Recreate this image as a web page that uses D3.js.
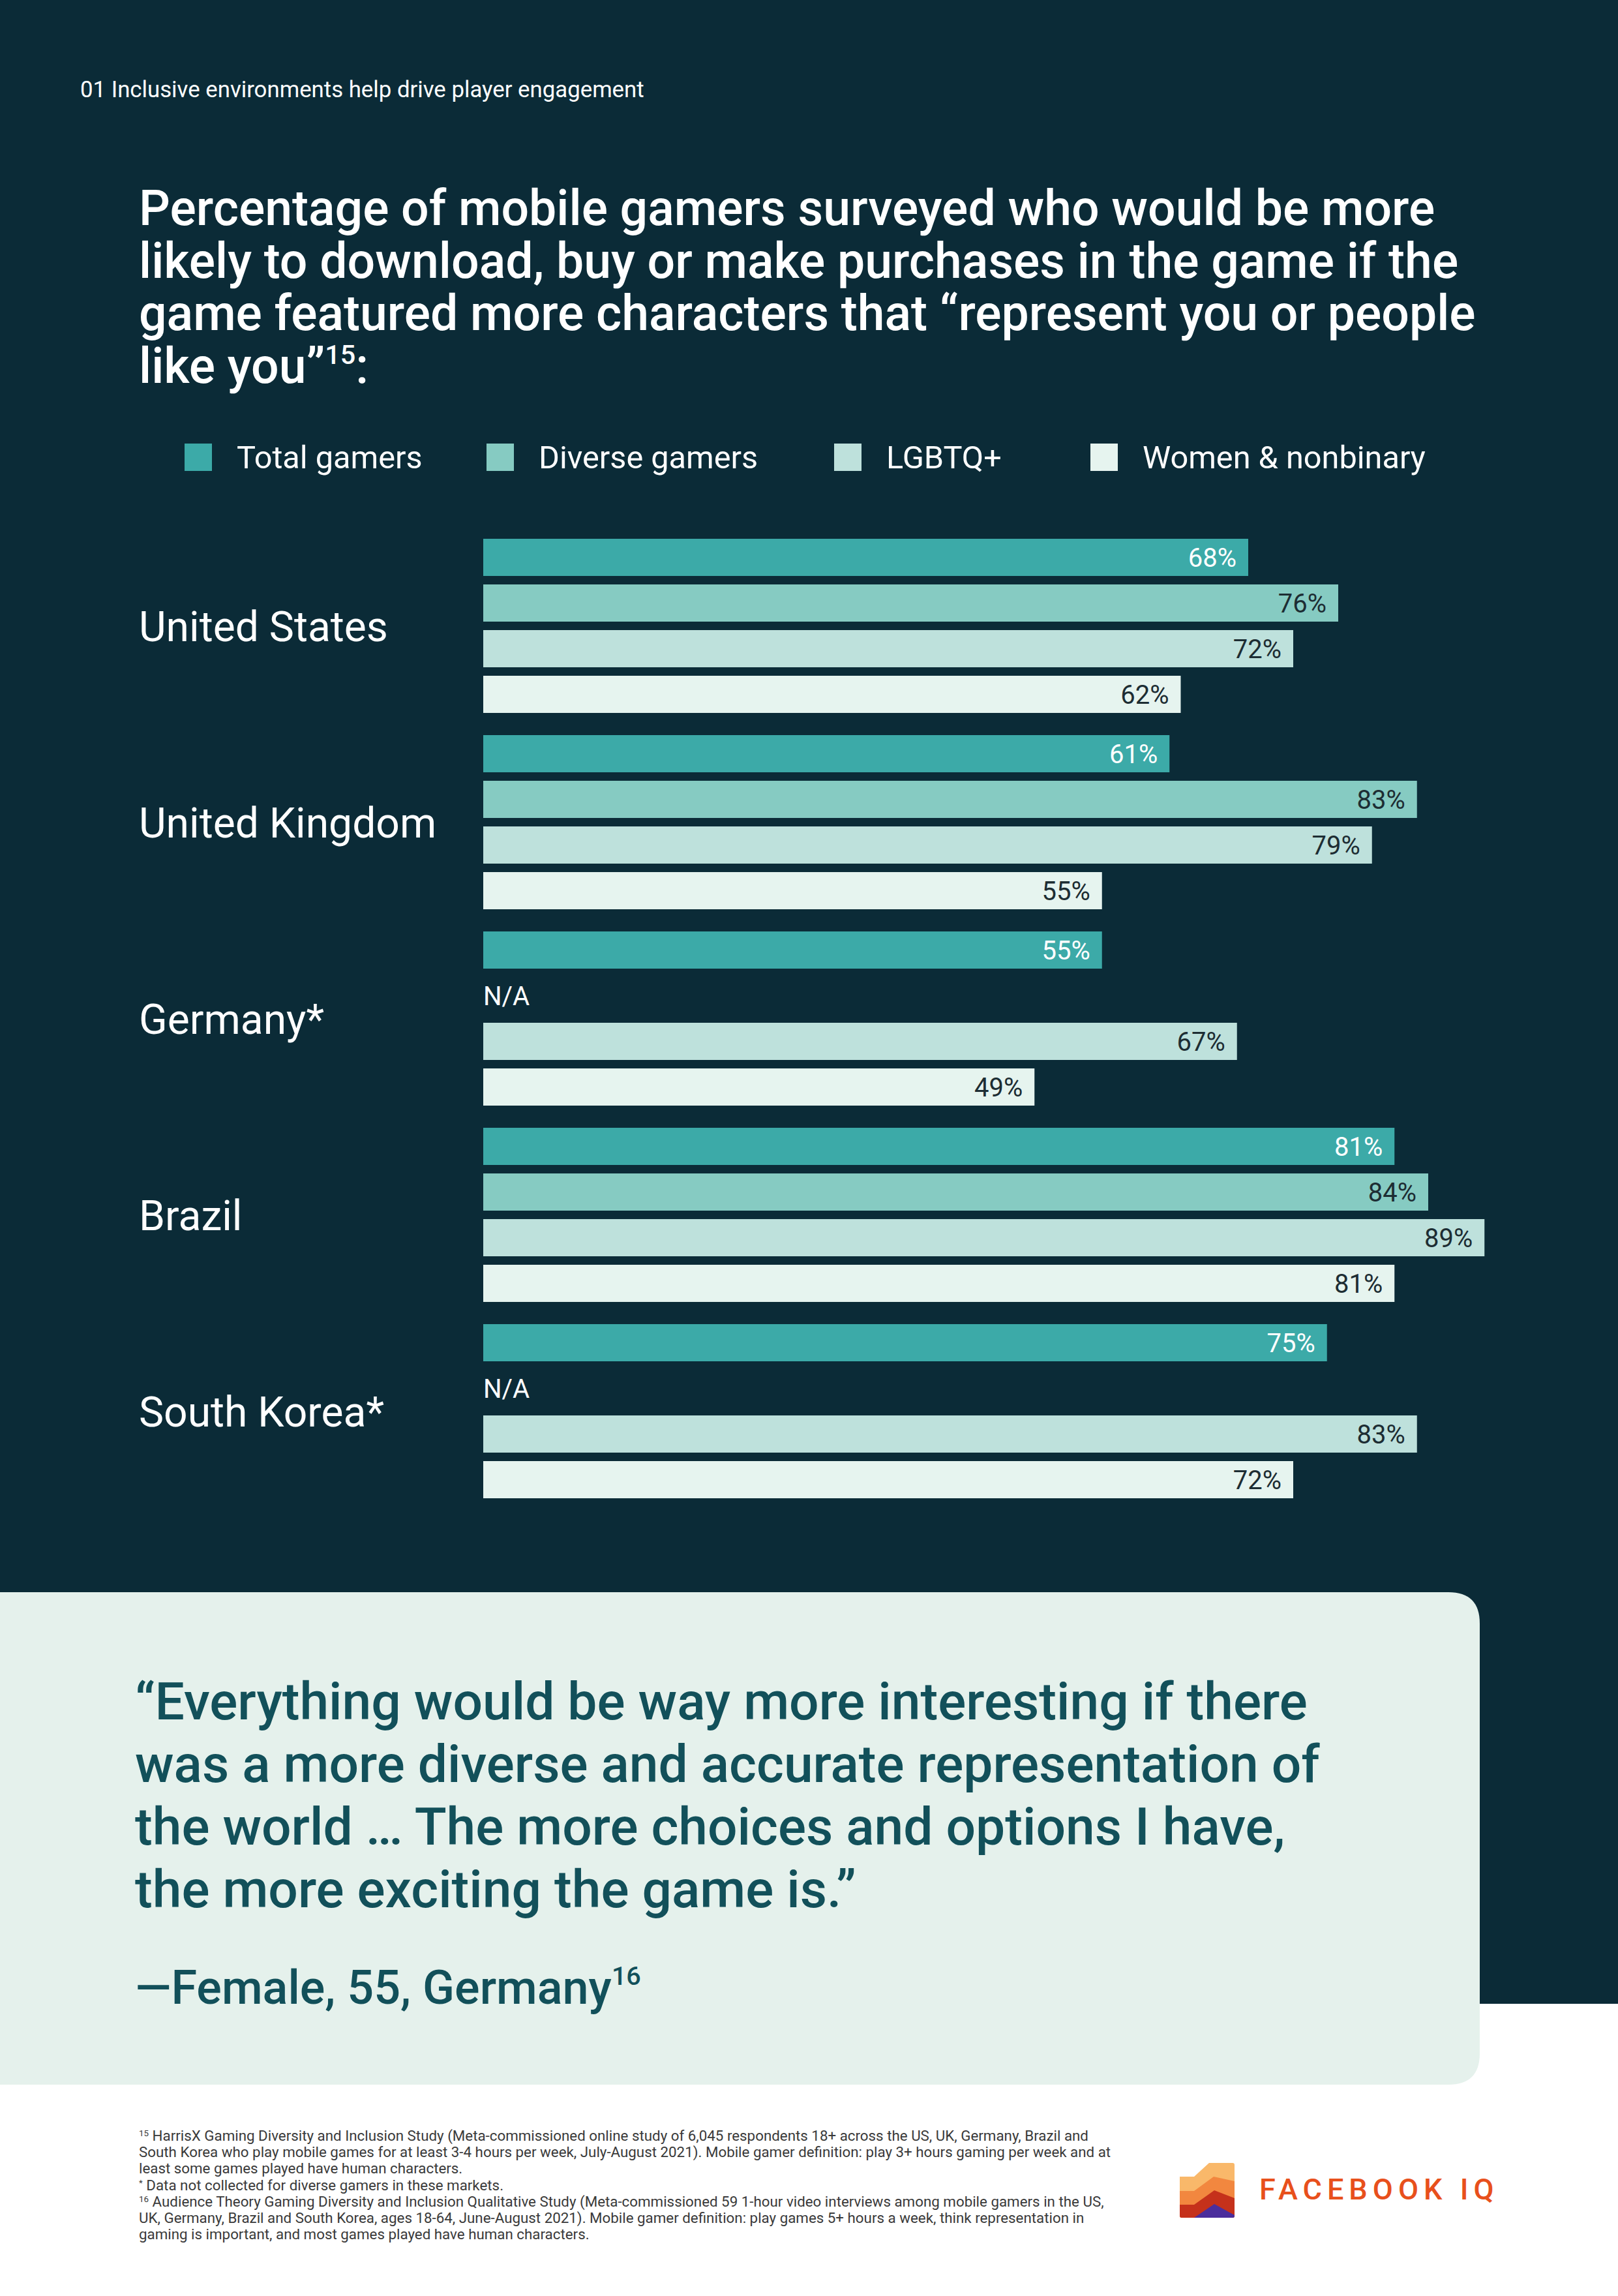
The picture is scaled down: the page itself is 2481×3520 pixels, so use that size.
<!DOCTYPE html>
<html>
<head>
<meta charset="utf-8">
<script src="https://cdn.jsdelivr.net/npm/d3@7"></script>
<style>
  html, body { margin: 0; padding: 0; background: #ffffff; }
  svg { display: block; }
</style>
</head>
<body>
<svg id="chart" width="2481" height="3520" font-family="Roboto, 'Noto Sans', sans-serif"></svg>
<script>
// ---------------- data ----------------
const countries = ["United States", "United Kingdom", "Germany*", "Brazil", "South Korea*"];
const seriesNames = ["Total gamers", "Diverse gamers", "LGBTQ+", "Women & nonbinary"];
const totalGamers   = [68, 61, 55, 81, 75];
const diverseGamers = [76, 83, null, 84, null];
const lgbtq         = [72, 79, 67, 89, 83];
const womenNonbin   = [62, 55, 49, 81, 72];
const seriesColors  = ["#3caaa8", "#86cbc2", "#bee1dc", "#e6f4ef"];
const labelColors   = ["#ffffff", "#1d2d33", "#1d2d33", "#1d2d33"];

const headerText = "01 Inclusive environments help drive player engagement";
const titleLines = [
  "Percentage of mobile gamers surveyed who would be more",
  "likely to download, buy or make purchases in the game if the",
  "game featured more characters that \u201crepresent you or people",
  "like you\u201d"
];
const quoteLines = [
  "\u201cEverything would be way more interesting if there",
  "was a more diverse and accurate representation of",
  "the world \u2026 The more choices and options I have,",
  "the more exciting the game is.\u201d"
];
const footnoteLines = [
  ["15", " HarrisX Gaming Diversity and Inclusion Study (Meta-commissioned online study of 6,045 respondents 18+ across the US, UK, Germany, Brazil and"],
  ["", "South Korea who play mobile games for at least 3-4 hours per week, July-August 2021). Mobile gamer definition: play 3+ hours gaming per week and at"],
  ["", "least some games played have human characters."],
  ["*", " Data not collected for diverse gamers in these markets."],
  ["16", " Audience Theory Gaming Diversity and Inclusion Qualitative Study (Meta-commissioned 59 1-hour video interviews among mobile gamers in the US,"],
  ["", "UK, Germany, Brazil and South Korea, ages 18-64, June-August 2021). Mobile gamer definition: play games 5+ hours a week, think representation in"],
  ["", "gaming is important, and most games played have human characters."]
];

const seriesValues = [totalGamers, diverseGamers, lgbtq, womenNonbin];
const rows = countries.map((c, i) => ({
  country: c,
  values: seriesNames.map((s, j) => ({ series: s, idx: j, value: seriesValues[j][i] }))
}));

// ---------------- layout ----------------
const W = 2481, H = 3520;
const BG = "#0b2b37";
const svg = d3.select("#chart");

function fitBlock(nodes, target, refIndex) {
  const ref = nodes[refIndex || 0];
  const w = ref.getComputedTextLength();
  const fs = parseFloat(d3.select(ref).attr("font-size"));
  const nfs = fs * target / w;
  nodes.forEach(n => d3.select(n).attr("font-size", nfs));
  return nfs;
}

// backgrounds
svg.append("rect").attr("x", 0).attr("y", 0).attr("width", W).attr("height", H).attr("fill", "#ffffff");
svg.append("rect").attr("x", 0).attr("y", 0).attr("width", W).attr("height", 3072).attr("fill", BG);

// header
const hdr = svg.append("text").attr("x", 123).attr("y", 149).attr("fill", "#ffffff")
  .attr("font-size", 28).attr("font-weight", 400).text(headerText);
fitBlock([hdr.node()], 865);

// title
const titleG = svg.append("g");
const tl = titleG.selectAll("text").data(titleLines).join("text")
  .attr("x", 213).attr("y", (d, i) => 345 + i * 80.5)
  .attr("fill", "#ffffff").attr("font-size", 64).attr("font-weight", 500)
  .text(d => d);
const titleFs = fitBlock(tl.nodes(), 2050, 2);
const lastTitle = d3.select(tl.nodes()[3]);
lastTitle.append("tspan").attr("font-size", titleFs * 0.55).attr("dy", -titleFs * 0.38).text("15");
lastTitle.append("tspan").attr("font-size", titleFs).attr("dy", titleFs * 0.38).text(":");

// legend
const legendX = [283, 746, 1279, 1672];
const legend = svg.append("g");
const legTexts = [];
seriesNames.forEach((s, j) => {
  legend.append("rect").attr("x", legendX[j]).attr("y", 680).attr("width", 42).attr("height", 42)
    .attr("fill", seriesColors[j]);
  const t = legend.append("text").attr("x", legendX[j] + 80).attr("y", 718).attr("fill", "#ffffff")
    .attr("font-size", 45).text(s);
  legTexts.push(t.node());
});
fitBlock(legTexts, 434, 3);

// scales
const x = d3.scaleLinear().domain([0, 100]).range([741, 741 + 1725]);
const yGroup = d3.scaleBand().domain(countries).range([826, 2297]).paddingInner(0.113).paddingOuter(0);
const ySeries = d3.scaleBand().domain(seriesNames).range([0, yGroup.bandwidth()]).paddingInner(0.1857).paddingOuter(0);

const groups = svg.append("g").selectAll("g").data(rows).join("g")
  .attr("transform", d => `translate(0,${yGroup(d.country)})`);

const countryLabels = groups.append("text")
  .attr("x", 213).attr("y", yGroup.bandwidth() / 2).attr("dy", "0.36em")
  .attr("fill", "#ffffff").attr("font-size", 56).text(d => d.country);
fitBlock(countryLabels.nodes(), 382, 0);

const cells = groups.selectAll("g.cell").data(d => d.values).join("g").attr("class", "cell")
  .attr("transform", d => `translate(0,${ySeries(d.series)})`);

cells.filter(d => d.value != null).append("rect")
  .attr("x", x(0)).attr("y", 0)
  .attr("width", d => x(d.value) - x(0)).attr("height", ySeries.bandwidth())
  .attr("fill", d => seriesColors[d.idx]);

cells.filter(d => d.value != null).append("text")
  .attr("x", d => x(d.value) - 18).attr("y", ySeries.bandwidth() / 2).attr("dy", "0.36em")
  .attr("text-anchor", "end").attr("font-size", 40)
  .attr("fill", d => labelColors[d.idx]).text(d => d.value + "%");

cells.filter(d => d.value == null).append("text")
  .attr("x", x(0)).attr("y", ySeries.bandwidth() / 2).attr("dy", "0.36em")
  .attr("font-size", 40).attr("fill", "#ffffff").text("N/A");

// quote box with rounded right corners
const bx0 = 0, bx1 = 2269, by0 = 2441, by1 = 3196, r = 48;
svg.append("path")
  .attr("d", `M${bx0},${by0} H${bx1 - r} Q${bx1},${by0} ${bx1},${by0 + r} V${by1 - r} Q${bx1},${by1} ${bx1 - r},${by1} H${bx0} Z`)
  .attr("fill", "#e5f1ec");

const QC = "#12505a";
const ql = svg.append("g").selectAll("text").data(quoteLines).join("text")
  .attr("x", 207).attr("y", (d, i) => 2636 + i * 96)
  .attr("fill", QC).attr("font-size", 60).attr("font-weight", 500).text(d => d);
fitBlock(ql.nodes(), 1798, 0);

const attr = svg.append("text").attr("x", 207).attr("y", 3072).attr("fill", QC)
  .attr("font-size", 60).attr("font-weight", 500).text("\u2014Female, 55, Germany");
const afs = fitBlock([attr.node()], 731);
attr.append("tspan").attr("font-size", afs * 0.55).attr("dy", -afs * 0.4).text("16");

// footnotes
const fn = svg.append("g").selectAll("text").data(footnoteLines).join("text")
  .attr("x", 213).attr("y", (d, i) => 3282 + i * 25.2)
  .attr("fill", "#3a3a3a").attr("font-size", 20);
fn.each(function(d) {
  const t = d3.select(this);
  if (d[0]) t.append("tspan").attr("class", "sup").attr("font-size", 12).attr("dy", -7).text(d[0]);
  t.append("tspan").attr("dy", d[0] ? 7 : 0).text(d[1]);
});
const fnFs = fitBlock([fn.nodes()[0]], 1457);
fn.attr("font-size", fnFs);
fn.selectAll("tspan.sup").attr("font-size", fnFs * 0.6);

// logo
const logo = svg.append("g").attr("transform", "translate(1809,3316)");
const clipId = "logoClip";
logo.append("clipPath").attr("id", clipId).append("rect")
  .attr("x", 0).attr("y", 0).attr("width", 84).attr("height", 84).attr("rx", 3);
const lg = logo.append("g").attr("clip-path", `url(#${clipId})`);
lg.append("path").attr("d", "M0,21 L22,21 L45,0 L84,0 L84,84 L0,84 Z").attr("fill", "#f9b86a");
lg.append("path").attr("d", "M0,43 L22,43 L52,21 L84,28 L84,84 L0,84 Z").attr("fill", "#f2873f");
lg.append("path").attr("d", "M0,64 L22,64 L53,42 L84,54 L84,84 L0,84 Z").attr("fill", "#c5311b");
lg.append("path").attr("d", "M22,84 L53,63 L84,80 L84,84 Z").attr("fill", "#4b2e9c");

const lt = svg.append("text").attr("x", 1931).attr("y", 3372).attr("fill", "#e8501c")
  .attr("font-size", 38).attr("font-weight", 500)
  .attr("letter-spacing", 8)
  .text("FACEBOOK IQ");
fitBlock([lt.node()], 384);
</script>
</body>
</html>
